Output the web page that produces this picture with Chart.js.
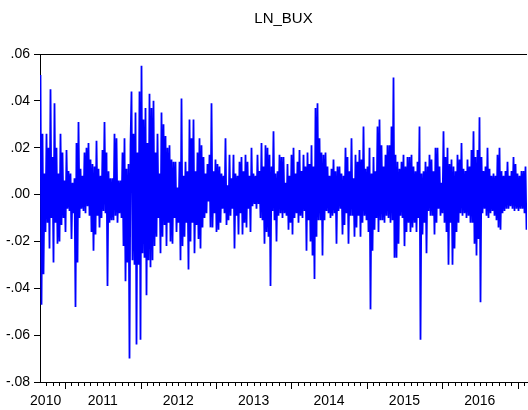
<!DOCTYPE html>
<html>
<head>
<meta charset="utf-8">
<title>LN_BUX</title>
<script src="https://cdn.jsdelivr.net/npm/chart.js@4.4.1/dist/chart.umd.min.js"></script>
<style>
  html, body { margin: 0; padding: 0; background: #ffffff; }
  #wrap { width: 528px; height: 410px; }
</style>
</head>
<body>
<div id="wrap"><canvas id="c" width="528" height="410"></canvas></div>
<script>
// Log returns of the BUX index, Sep 2010 - early 2017
const seriesName = 'LN_BUX';
const yearLabels = ['2010', '2011', '2012', '2013', '2014', '2015', '2016'];
const yTicks = [0.06, 0.04, 0.02, 0.00, -0.02, -0.04, -0.06, -0.08];

// sampled observations, in time order
const lnBux = [
  .051,-.047,.026,-.034,.009,-.016,.026,-.012,.020,-.023,
  .045,-.010,.016,-.029,.039,-.012,.020,-.021,.009,-.020,
  .026,-.013,.018,-.010,.006,-.016,.019,-.006,.010,-.007,
  .009,-.019,.005,-.008,.007,-.048,.022,-.029,.031,-.010,
  .011,-.006,.008,-.007,.018,-.008,.020,-.005,.022,-.009,
  .015,-.016,.013,-.024,.012,-.017,.023,-.009,.011,-.014,
  .008,-.010,.019,-.007,.031,-.008,.018,-.039,.010,-.012,
  .007,-.011,.007,-.011,.026,-.009,.024,-.012,.006,-.008,
  .006,-.010,.018,-.022,.024,-.037,.011,-.029,.013,-.070,
  .021,.044,-.028,.026,-.030,.035,-.064,.018,-.030,.044,
  -.062,.055,-.025,.032,-.027,.037,-.043,.022,-.028,.043,
  -.031,.037,-.028,.040,-.022,.018,-.018,.026,-.010,.009,
  -.025,.035,-.018,.030,-.013,.025,-.022,.020,-.012,.021,
  -.020,.015,-.021,.014,-.010,.014,-.016,.003,-.012,.014,
  -.028,.041,-.022,.008,-.018,.014,-.012,.010,-.032,.032,
  -.020,.024,-.012,.032,-.025,.010,-.013,.018,-.019,.024,
  -.023,.021,-.014,.016,-.010,.009,-.008,.013,-.003,.017,
  -.014,.039,-.014,.010,-.008,.015,-.016,.013,-.015,.012,
  -.012,.009,-.006,.008,-.008,.024,-.013,.004,-.011,.017,
  -.009,.007,-.006,.017,-.023,.009,-.009,.008,-.017,.014,
  -.008,.016,-.017,.010,-.012,.017,-.014,.014,-.006,.008,
  -.016,.020,-.005,.009,-.004,.008,-.006,.017,-.004,.010,
  -.010,.022,-.011,.012,-.021,.021,-.016,.020,-.018,.017,
  -.039,.012,-.007,.027,-.011,.009,-.020,.010,-.009,.017,
  -.008,.016,-.010,.016,-.008,.005,-.009,.013,-.015,.008,
  -.012,.017,-.017,.020,-.010,.009,-.008,.014,-.012,.019,
  -.009,.010,-.010,.017,-.007,.012,-.024,.018,-.011,.013,
  -.020,.021,-.026,.012,-.036,.037,-.018,.039,-.011,.024,
  -.011,.018,-.026,.017,-.011,.018,-.007,.012,-.008,.008,
  -.010,.011,-.009,.015,-.008,.010,-.021,.012,-.007,.012,
  -.006,.009,-.017,.008,-.013,.020,-.008,.016,-.021,.010,
  -.009,.024,-.009,.007,-.018,.017,-.014,.014,-.009,.019,
  -.018,.015,-.012,.029,-.009,.011,-.011,.012,-.016,.020,
  -.049,.009,-.024,.016,-.015,.010,-.010,.029,-.016,.032,
  -.011,.021,-.011,.012,-.012,.017,-.009,.021,-.010,.021,
  -.012,.029,-.011,.050,-.027,.017,-.027,.014,-.021,.011,
  -.009,.014,-.010,.017,-.022,.012,-.016,.016,-.012,.016,
  -.016,.017,-.014,.012,-.012,.010,-.016,.014,-.010,.029,
  -.062,.009,-.017,.010,-.012,.014,-.025,.012,-.007,.017,
  -.009,.015,-.009,.010,-.017,.020,-.012,.020,-.006,.012,
  -.009,.005,-.008,.027,-.012,.016,-.016,.020,-.030,.013,
  -.012,.015,-.030,.012,-.023,.010,-.016,.017,-.012,.015,
  -.008,.022,-.009,.011,-.008,.010,-.010,.015,-.009,.012,
  -.012,.019,-.012,.027,-.021,.016,-.026,.019,-.019,.033,
  -.046,.016,-.008,.010,-.006,.012,-.009,.020,-.010,.011,
  -.008,.008,-.007,.009,-.009,.008,-.011,.017,-.014,.020,
  -.015,.010,-.008,.008,-.007,.010,-.006,.014,-.006,.008,
  -.005,.010,-.006,.016,-.007,.013,-.006,.009,-.007,.008,
  -.006,.010,-.006,.010,-.008,.012,-.015
];

// time axis in fractional years; sample starts 1 Sep 2010
const START = 2010 + 8 / 12;
const OBS_PER_YEAR = 75.4;
const END = START + lnBux.length / OBS_PER_YEAR;
const points = lnBux.map((v, i) => ({ x: START + (i + 0.5) / OBS_PER_YEAR, y: v }));

const FONT = '"Liberation Sans", Arial, Helvetica, sans-serif';

// label anchors: middle of each year, kept near the axis start for the partial first year
const yearAnchor = {};
yearLabels.forEach(lbl => {
  const y = Number(lbl);
  const lo = Math.max(y, START), hi = Math.min(y + 1, END);
  yearAnchor[lbl] = y === Math.floor(START) ? START + 0.075 : (lo + hi) / 2;
});

// monthly minor ticks and yearly major ticks under the time axis
const monthTicks = {
  id: 'monthTicks',
  afterDraw(chart) {
    const xs = chart.scales.x;
    const ctx = chart.ctx;
    const bottom = chart.chartArea.bottom;
    ctx.save();
    ctx.strokeStyle = '#000';
    ctx.lineWidth = 1;
    ctx.beginPath();
    for (let yr = Math.floor(START); yr <= Math.ceil(END); yr++) {
      for (let m = 0; m < 12; m++) {
        const v = yr + m / 12;
        if (v <= xs.min + 1e-6 || v > xs.max) continue;
        const px = Math.round(xs.getPixelForValue(v)) + 0.5;
        ctx.moveTo(px, bottom);
        ctx.lineTo(px, bottom + (m === 0 ? 7 : 4));
      }
    }
    ctx.stroke();
    ctx.restore();
  }
};

new Chart(document.getElementById('c'), {
  type: 'line',
  data: {
    datasets: [{
      label: seriesName,
      data: points,
      borderColor: '#0000ff',
      borderWidth: 1.8,
      pointRadius: 0,
      tension: 0,
      fill: false
    }]
  },
  options: {
    responsive: false,
    animation: false,
    devicePixelRatio: 1,
    layout: { padding: { left: 0, right: 1, top: 0, bottom: 0 } },
    plugins: {
      legend: { display: false },
      tooltip: { enabled: false },
      title: {
        display: true,
        text: seriesName,
        fullSize: false,
        color: '#000',
        font: { family: FONT, size: 15, weight: 'normal', lineHeight: 1.2 },
        padding: { top: 10, bottom: 26 }
      }
    },
    scales: {
      x: {
        type: 'linear',
        min: START,
        max: END,
        afterBuildTicks: s => { s.ticks = yearLabels.map(l => ({ value: yearAnchor[l], label: l })); },
        afterFit: s => { s.height = 28; },
        ticks: {
          autoSkip: false,
          maxRotation: 0,
          padding: 11,
          color: '#000',
          font: { family: FONT, size: 14 },
          callback: (v, i) => yearLabels[i]
        },
        grid: { display: true, drawOnChartArea: false, drawTicks: false },
        border: { display: true, color: '#000', width: 1 }
      },
      y: {
        type: 'linear',
        min: -0.08,
        max: 0.06,
        afterBuildTicks: s => { s.ticks = yTicks.map(v => ({ value: v })); },
        afterFit: s => { s.width = 40; },
        ticks: {
          padding: 4,
          color: '#000',
          font: { family: FONT, size: 14 },
          callback: v => {
            const s = Math.abs(v).toFixed(2).replace(/^0/, '');
            return (v < -1e-9 ? '-' : '') + s;
          }
        },
        grid: {
          drawOnChartArea: true,
          drawTicks: true,
          tickLength: 6,
          tickColor: '#000',
          color: c => (c.tick && Math.abs(c.tick.value - 0.06) < 1e-9) ? '#000' : 'rgba(0,0,0,0)'
        },
        border: { display: true, color: '#000', width: 1 }
      }
    }
  },
  plugins: [monthTicks]
});
</script>
</body>
</html>
